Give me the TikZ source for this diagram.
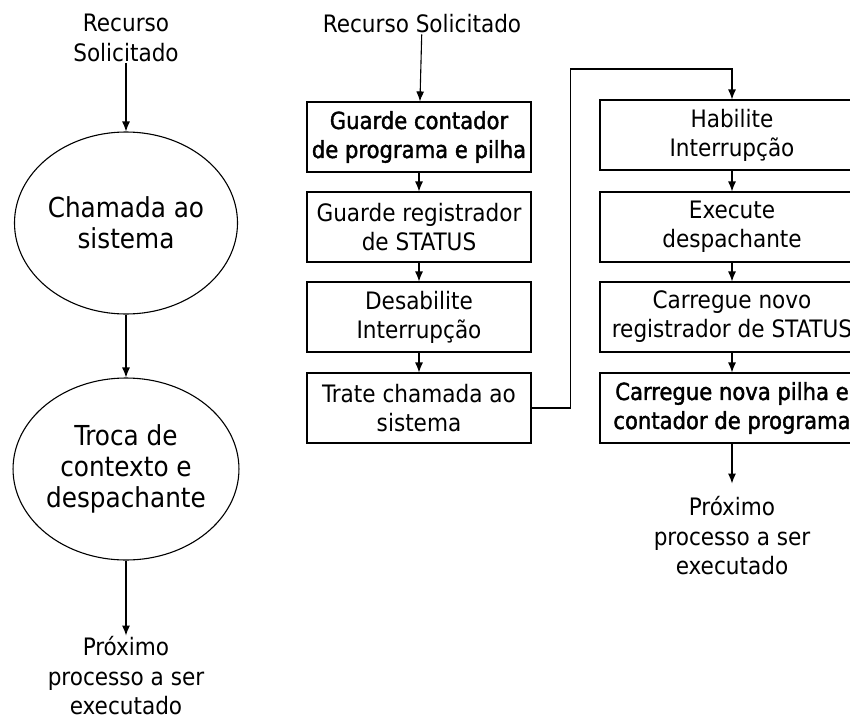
\documentclass[tikz,border=0pt]{standalone}
\usepackage{fontspec}
\setmainfont{DejaVu Sans Condensed}
\newfontfamily\heavyfont{DejaVu Sans Condensed}[FakeBold=1.6]
\usetikzlibrary{arrows.meta,positioning,shapes.geometric}

\begin{document}
\begin{tikzpicture}[x=1pt, y=-1pt,
    lbl/.style={align=center, inner sep=1pt, font=\fontsize{24}{29.5}\selectfont},
    oval/.style={draw, ellipse, minimum width=223pt, minimum height=182pt, inner sep=0pt, align=center, font=\fontsize{27.5}{31}\selectfont, line width=1.1pt},
    box/.style={draw, minimum width=224pt, minimum height=70pt, inner sep=1pt, align=center, font=\fontsize{24}{29}\selectfont, line width=1.1pt},
    bbox/.style={box, font=\fontsize{23.5}{29}\heavyfont},
    wbox/.style={box, minimum width=264pt},
    arr/.style={-{Latex[length=10pt,width=8pt]}, line width=1.1pt}
]
\useasboundingbox (0,0) rectangle (850,717);

% left: short version
\node[lbl] (req1) at (126,38) {Recurso\\Solicitado};
\node[oval] (call) at (126,223) {Chamada ao\\sistema};
\node[oval] (ctx) at (126,469) {Troca de\\contexto e\\despachante};
\node[lbl] (next1) at (126,676) {Próximo\\processo a ser\\executado};
\draw[arr] (req1) -- (call);
\draw[arr] (call) -- (ctx);
\draw[arr] (ctx) -- (next1);

% middle column
\node[lbl] (req2) at (422,24) {Recurso Solicitado};
\node[bbox] (save) at (419,137) {Guarde contador\\de programa e pilha};
\node[box] (status) at (419,227) {Guarde registrador\\de STATUS};
\node[box] (dis) at (419,317) {Desabilite\\Interrupção};
\node[box] (trap) at (419,408) {Trate chamada ao\\sistema};
\draw[arr] (req2) -- (save);
\draw[arr] (save) -- (status);
\draw[arr] (status) -- (dis);
\draw[arr] (dis) -- (trap);

% right column
\node[wbox] (ena) at (732,135) {Habilite\\Interrupção};
\node[wbox] (disp) at (732,227) {Execute\\despachante};
\node[wbox] (load) at (732,317) {Carregue novo\\registrador de STATUS};
\node[bbox, minimum width=264pt] (restore) at (732,408) {Carregue nova pilha e\\contador de programa};
\node[lbl] (next2) at (732,536) {Próximo\\processo a ser\\executado};
\coordinate (turn) at (732,69);
\draw[arr] (trap.east) -- ++(39,0) |- (turn) -- (ena.north);
\draw[arr] (ena) -- (disp);
\draw[arr] (disp) -- (load);
\draw[arr] (load) -- (restore);
\draw[arr, shorten >=12pt] (restore) -- (next2);
\end{tikzpicture}
\end{document}
